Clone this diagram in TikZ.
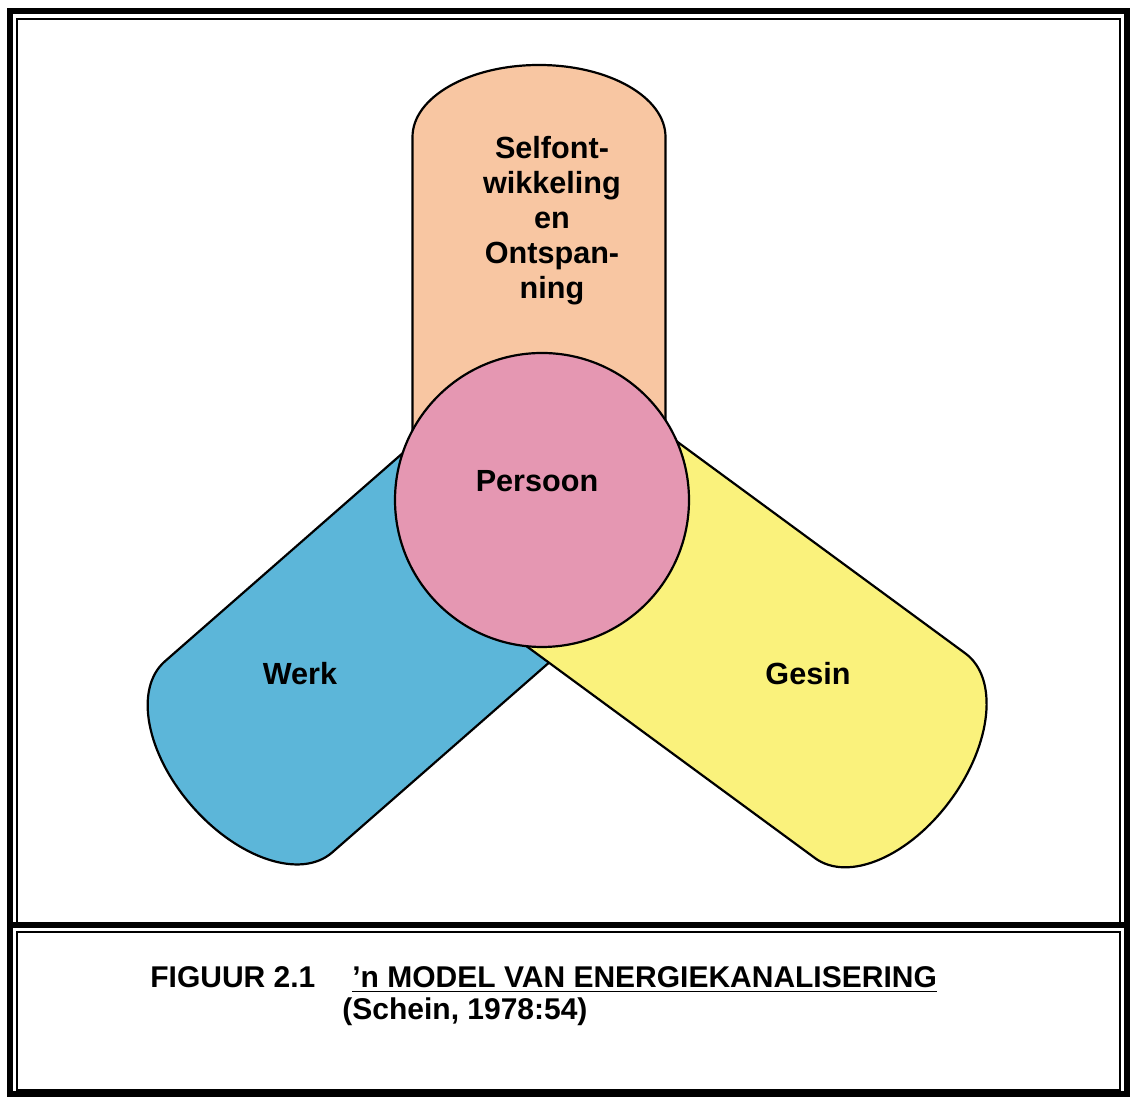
\documentclass[tikz,border=0pt]{standalone}
\usepackage{fontspec}
\setmainfont{Liberation Sans}
\usepackage{tikz}

\definecolor{peach}{HTML}{F8C6A2}
\definecolor{rosepink}{HTML}{E597B2}
\definecolor{skyblue}{HTML}{5CB6D9}
\definecolor{lemon}{HTML}{FAF27C}

\begin{document}
\begin{tikzpicture}[x=0.5pt,y=0.5pt,
    arm/.style={draw=black,line width=1.1pt},
    lbl/.style={font=\fontsize{15.3}{17.5}\selectfont\bfseries,align=center,inner sep=0pt},
    captxt/.style={font=\fontsize{15}{18}\selectfont\bfseries,inner sep=0pt}]
  \useasboundingbox (0,0) rectangle (1132,1097);
  %%%%% THE FRAME
  \draw[line width=1pt] (17,172) rectangle (1120,1078);
  \draw[line width=1pt] (17,7) rectangle (1120,165);
  \draw[line width=3pt] (10,3) rectangle (1127,1086);
  \draw[line width=3pt] (10,172) -- (1127,172);
  %%%%% THE ARMS
  \begin{scope}[shift={(539,597)},rotate=90]
    \path[arm,fill=peach] (0,-126.5) -- (363,-126.5)
      arc[start angle=-90,end angle=90,x radius=72,y radius=126.5] -- (0,126.5) -- cycle;
  \end{scope}
  \begin{scope}[shift={(542,597)},rotate=221.2]
    \path[arm,fill=skyblue] (0,-127) -- (390,-127)
      arc[start angle=-90,end angle=90,x radius=75,y radius=127] -- (0,127) -- cycle;
  \end{scope}
  \begin{scope}[shift={(542,597)},rotate=-36.3]
    \path[arm,fill=lemon] (0,-127) -- (432,-127)
      arc[start angle=-90,end angle=90,x radius=75,y radius=127] -- (0,127) -- cycle;
  \end{scope}
  %%%%% THE PERSON
  \path[arm,fill=rosepink] (542,597) circle[radius=147];
  % labels
  \node[lbl] (selfont) at (552,876) {Selfont-\\wikkeling\\en\\Ontspan-\\ning};
  \node[lbl,anchor=base] (persoon) at (537,605) {Persoon};
  \node[lbl,anchor=base] (werk) at (300,412) {Werk};
  \node[lbl,anchor=base] (gesin) at (808,412) {Gesin};
  %%%%% THE CAPTION
  \node[captxt,anchor=base west] (figuur) at (150,109) {FIGUUR 2.1};
  \node[captxt,anchor=base west] (titel) at (352,109) {\underline{’n MODEL VAN ENERGIEKANALISERING}};
  \node[captxt,anchor=base west] (bron) at (342,77) {(Schein, 1978:54)};
\end{tikzpicture}
\end{document}
